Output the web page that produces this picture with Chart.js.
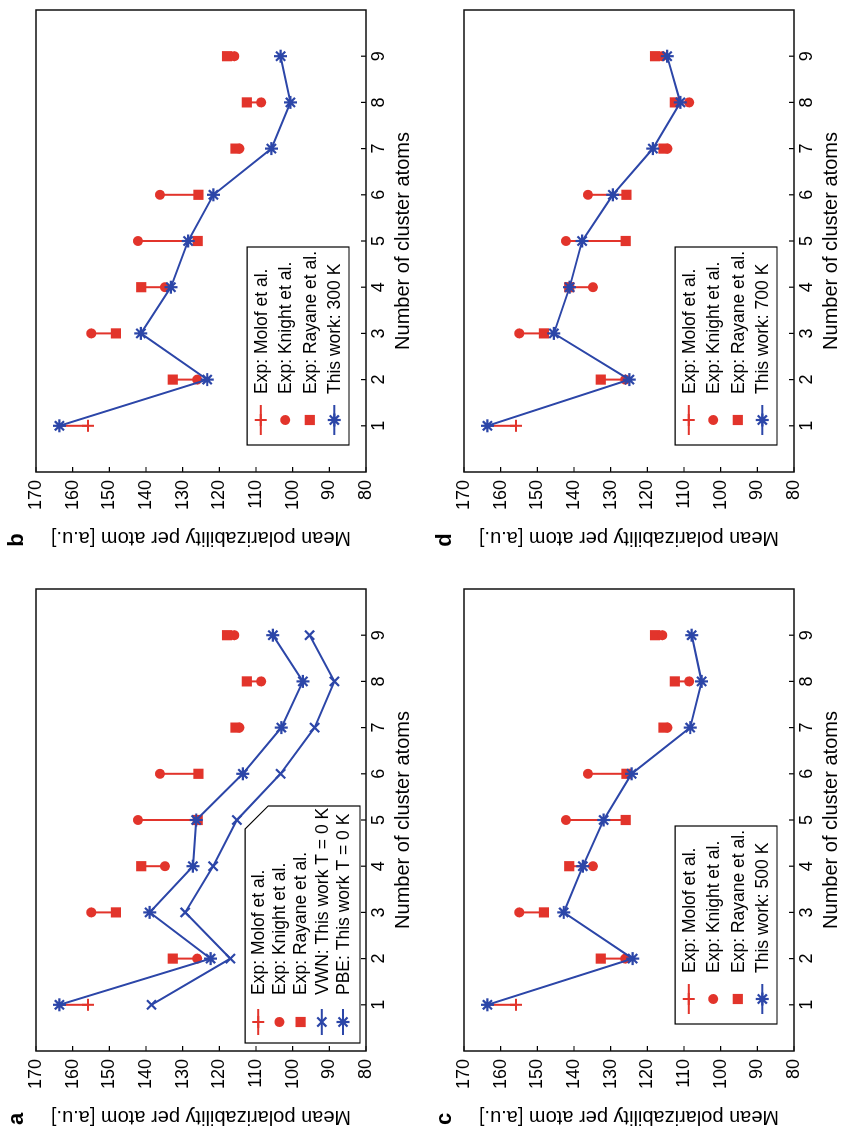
<!DOCTYPE html>
<html>
<head>
<meta charset="utf-8">
<title>Mean polarizability per atom</title>
<script src="https://cdn.jsdelivr.net/npm/chart.js@4/dist/chart.umd.min.js"></script>
<style>
  html, body { margin: 0; padding: 0; background: #fff; overflow: hidden; }
  /* the figure is laid out landscape and turned a quarter turn to the left */
  #figure {
    position: absolute; left: 0; top: 0;
    width: 1129px; height: 843px;
    transform-origin: 0 0;
    transform: translate(0, 1129px) rotate(-90deg);
  }
  #figure canvas { position: absolute; }
</style>
</head>
<body>
<div id="figure">
  <canvas id="panelA" width="550" height="415" style="left:0;top:0"></canvas>
  <canvas id="panelB" width="550" height="415" style="left:579px;top:0"></canvas>
  <canvas id="panelC" width="550" height="415" style="left:0;top:428px"></canvas>
  <canvas id="panelD" width="550" height="415" style="left:579px;top:428px"></canvas>
</div>
<script>
// cluster sizes on the x axis
const clusterAtoms = [1, 2, 3, 4, 5, 6, 7, 8, 9];

// experiment (same in every panel)
const molof = [155.8];        // atom, n = 1
const molofUpper = [163.6];   // top of its bar
const knight = [null, 126.0, 154.9, 134.8, 142.2, 136.2, 114.5, 108.6, 115.9];
const rayane = [null, 132.7, 148.2, 141.3, 125.9, 125.7, 115.6, 112.5, 117.9];

// calculations
const vwn0K = [138.5, 117.0, 129.3, 121.7, 115.2, 103.3, 94.0, 88.6, 95.4];
const pbe0K = [163.6, 122.4, 139.0, 127.2, 126.3, 113.6, 103.1, 97.2, 105.4];
const work300K = [163.6, 123.3, 141.4, 133.2, 128.5, 121.6, 105.8, 100.6, 103.3];
const work500K = [163.6, 124.0, 142.8, 137.6, 131.9, 124.3, 108.3, 105.2, 107.9];
const work700K = [163.6, 124.9, 145.5, 141.2, 137.8, 129.4, 118.5, 111.0, 114.6];

const RED = '#e2342b';
const BLUE = '#2c46a8';
const FONT = "'Liberation Sans', Arial, Helvetica, sans-serif";

Chart.defaults.font.family = FONT;
Chart.defaults.color = '#000';

function drawMarker(ctx, style, x, y, r, color, lw) {
  ctx.save();
  ctx.strokeStyle = color;
  ctx.fillStyle = color;
  ctx.lineWidth = lw;
  ctx.beginPath();
  if (style === 'circle') {
    ctx.arc(x, y, r, 0, Math.PI * 2);
    ctx.fill();
  } else if (style === 'rect') {
    const s = r * Math.SQRT1_2;
    ctx.fillRect(x - s, y - s, 2 * s, 2 * s);
  } else {
    if (style === 'cross' || style === 'star') {
      ctx.moveTo(x - r, y); ctx.lineTo(x + r, y);
      ctx.moveTo(x, y - r); ctx.lineTo(x, y + r);
    }
    if (style === 'crossRot' || style === 'star') {
      const d = r * Math.SQRT1_2;
      ctx.moveTo(x - d, y - d); ctx.lineTo(x + d, y + d);
      ctx.moveTo(x - d, y + d); ctx.lineTo(x + d, y - d);
    }
    ctx.stroke();
  }
  ctx.restore();
}

// legend box sitting inside the plot area, lower left
const panelLegend = {
  id: 'panelLegend',
  afterDatasetsDraw(chart, args, opts) {
    const ctx = chart.ctx;
    const area = chart.chartArea;
    const items = chart.data.datasets.filter(d => d.label);
    const x0 = area.left + opts.offsetX;
    const x1 = x0 + opts.width;
    const y1 = area.bottom - opts.offsetY;
    const y0 = y1 - (opts.padTop + opts.padBottom + opts.rowGap * (items.length - 1));
    const cut = opts.cut || 0;
    ctx.save();
    ctx.beginPath();
    ctx.moveTo(x0, y0);
    ctx.lineTo(x1 - cut, y0);
    ctx.lineTo(x1, y0 + cut);
    ctx.lineTo(x1, y1);
    ctx.lineTo(x0, y1);
    ctx.closePath();
    ctx.fillStyle = '#fff';
    ctx.fill();
    ctx.lineWidth = 1.2;
    ctx.strokeStyle = '#000';
    ctx.stroke();
    ctx.font = opts.fontSize + 'px ' + FONT;
    ctx.textBaseline = 'middle';
    ctx.textAlign = 'left';
    items.forEach((d, i) => {
      const y = y0 + opts.padTop + i * opts.rowGap;
      const sx = x0 + opts.sampleX;
      const color = d.pointBorderColor;
      if (d.showLine || d.legendLine) {
        ctx.strokeStyle = color;
        ctx.lineWidth = 2;
        ctx.beginPath();
        ctx.moveTo(sx, y);
        ctx.lineTo(sx + opts.sampleW, y);
        ctx.stroke();
      }
      drawMarker(ctx, d.pointStyle, sx + opts.sampleW / 2, y, d.pointRadius, color, d.pointBorderWidth);
      ctx.fillStyle = '#000';
      ctx.fillText(d.label, x0 + opts.textX, y + 1);
    });
    ctx.restore();
  }
};

// box round the plot, inward ticks, panel letter
const frame = {
  id: 'frame',
  afterDraw(chart, args, opts) {
    const { ctx, chartArea: a, scales: { x, y } } = chart;
    ctx.save();
    ctx.strokeStyle = '#000';
    ctx.lineWidth = 1.2;
    ctx.beginPath();
    clusterAtoms.forEach(n => {
      const px = x.getPixelForValue(n);
      ctx.moveTo(px, a.bottom);
      ctx.lineTo(px, a.bottom - 5);
    });
    y.ticks.forEach(t => {
      const py = y.getPixelForValue(t.value);
      ctx.moveTo(a.left, py);
      ctx.lineTo(a.left + 5, py);
    });
    ctx.stroke();
    ctx.lineWidth = 1.5;
    ctx.strokeStyle = '#111';
    ctx.strokeRect(a.left, a.top, a.right - a.left, a.bottom - a.top);
    ctx.fillStyle = '#000';
    ctx.font = 'bold 22px ' + FONT;
    ctx.textAlign = 'center';
    ctx.textBaseline = 'middle';
    ctx.fillText(opts.letter, 10, 17);
    ctx.restore();
  }
};

function points(values) {
  return clusterAtoms.map((n, i) => ({ x: n, y: values[i] }));
}

// red bars: Molof bar for the atom, Knight-to-Rayane bar for the clusters
function expBars() {
  const pts = [{ x: 1, y: molof[0] }, { x: 1, y: molofUpper[0] }, { x: 1, y: null }];
  clusterAtoms.forEach((n, i) => {
    if (knight[i] === null) return;
    pts.push({ x: n, y: knight[i] }, { x: n, y: rayane[i] }, { x: n, y: null });
  });
  return pts;
}

function makePanel(id, letter, series, legendOpts) {
  const datasets = [
    {
      label: 'Exp: Molof et al.',
      data: [{ x: 1, y: molof[0] }],
      showLine: false, legendLine: true,
      pointStyle: 'cross', pointRadius: 6, pointBorderWidth: 2,
      pointBorderColor: RED, pointBackgroundColor: RED, order: 1
    },
    {
      label: 'Exp: Knight et al.',
      data: points(knight).filter(p => p.y !== null),
      showLine: false,
      pointStyle: 'circle', pointRadius: 5, pointBorderWidth: 0,
      pointBorderColor: RED, pointBackgroundColor: RED, order: 1
    },
    {
      label: 'Exp: Rayane et al.',
      data: points(rayane).filter(p => p.y !== null),
      showLine: false,
      pointStyle: 'rect', pointRadius: 7.2, pointBorderWidth: 0,
      pointBorderColor: RED, pointBackgroundColor: RED, order: 1
    }
  ];
  series.forEach(s => {
    datasets.push({
      label: s.label,
      data: points(s.values),
      showLine: true,
      borderColor: BLUE, borderWidth: 2,
      pointStyle: s.marker, pointRadius: 6.5, pointBorderWidth: 2.2,
      pointBorderColor: BLUE, pointBackgroundColor: BLUE, order: 0
    });
  });
  datasets.push({
    label: '',
    data: expBars(),
    showLine: true, spanGaps: false,
    borderColor: RED, borderWidth: 2,
    pointRadius: 0, order: 2
  });

  new Chart(document.getElementById(id), {
    type: 'line',
    data: { datasets: datasets },
    options: {
      responsive: false,
      animation: false,
      devicePixelRatio: 1,
      layout: { padding: { top: 36, right: 10, left: 0, bottom: 0 } },
      plugins: {
        legend: { display: false },
        tooltip: { enabled: false },
        panelLegend: legendOpts,
        frame: { letter: letter }
      },
      scales: {
        x: {
          type: 'linear', min: 0, max: 10,
          grid: { display: false, drawTicks: false },
          border: { display: false },
          ticks: {
            stepSize: 1, autoSkip: false, maxRotation: 0, padding: 2,
            font: { size: 18 },
            callback: v => (v >= 1 && v <= 9 ? String(v) : '')
          },
          title: {
            display: true, text: 'Number of cluster atoms',
            font: { size: 20 }, padding: { top: 0, bottom: 0 }
          },
          afterFit(scale) { scale.height = 49; }
        },
        y: {
          type: 'linear', min: 80, max: 170,
          grid: { display: false, drawTicks: false },
          border: { display: false },
          ticks: { stepSize: 10, padding: 8, font: { size: 18 } },
          title: {
            display: true, text: 'Mean polarizability per atom [a.u.]',
            font: { size: 20 }, padding: { top: 0, bottom: 0 }
          },
          afterFit(scale) { scale.width = 78; }
        }
      }
    },
    plugins: [panelLegend, frame]
  });
}

const legendZeroK = {
  offsetX: 8, offsetY: 6, width: 237, padTop: 13, padBottom: 17, rowGap: 21.2,
  sampleX: 8, sampleW: 26, textX: 48, fontSize: 17.5, cut: 23
};
const legendFinite = {
  offsetX: 27, offsetY: 17, width: 198, padTop: 13.7, padBottom: 14.7, rowGap: 24.5,
  sampleX: 10, sampleW: 30, textX: 51, fontSize: 17.5, cut: 0
};

makePanel('panelA', 'a', [
  { label: 'VWN: This work T = 0 K', values: vwn0K, marker: 'crossRot' },
  { label: 'PBE: This work T = 0 K', values: pbe0K, marker: 'star' }
], legendZeroK);
makePanel('panelB', 'b', [
  { label: 'This work: 300 K', values: work300K, marker: 'star' }
], legendFinite);
makePanel('panelC', 'c', [
  { label: 'This work: 500 K', values: work500K, marker: 'star' }
], legendFinite);
makePanel('panelD', 'd', [
  { label: 'This work: 700 K', values: work700K, marker: 'star' }
], legendFinite);
</script>
</body>
</html>
